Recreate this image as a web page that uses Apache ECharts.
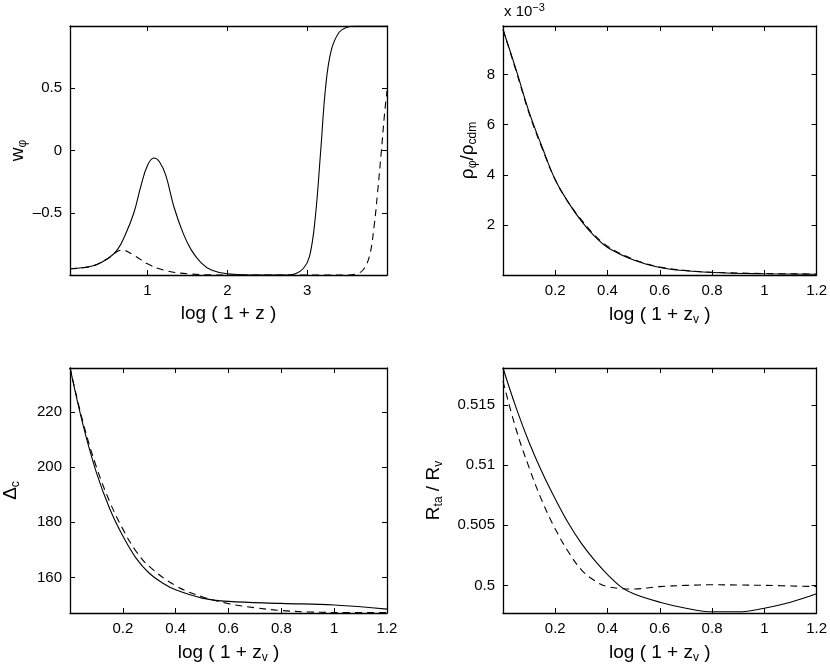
<!DOCTYPE html>
<html>
<head>
<meta charset="utf-8">
<script src="https://cdn.jsdelivr.net/npm/echarts@6/dist/echarts.min.js"></script>
<style>
  html, body { margin: 0; padding: 0; background: #fff; }
  #chart { width: 830px; height: 665px; }
</style>
</head>
<body>
<div id="chart"></div>
<script>
// panel 1: w_phi vs log(1+z)
const wSolid = [[0.03,-0.95],[0.2,-0.94],[0.35,-0.92],[0.5,-0.87],[0.62,-0.8],[0.72,-0.68],[0.83,-0.5],[0.92,-0.28],[1.0,-0.12],[1.08,-0.06],[1.15,-0.09],[1.23,-0.2],[1.33,-0.45],[1.45,-0.67],[1.55,-0.8],[1.67,-0.9],[1.8,-0.96],[2.0,-0.99],[2.4,-1.0],[2.75,-1.0],[2.85,-0.99],[2.95,-0.95],[3.03,-0.85],[3.1,-0.55],[3.17,0],[3.23,0.5],[3.3,0.8],[3.4,0.95],[3.5,0.99],[3.6,1.0],[4.0,1.0]];
const wDashed = [[0.03,-0.95],[0.3,-0.93],[0.5,-0.87],[0.68,-0.8],[0.85,-0.85],[1.0,-0.91],[1.2,-0.96],[1.5,-0.99],[2.0,-1.0],[3.5,-1.0],[3.62,-0.99],[3.7,-0.96],[3.78,-0.85],[3.84,-0.6],[3.88,-0.35],[3.93,0],[3.97,0.3],[4.0,0.48]];
// panel 2: rho_phi/rho_cdm (x 1e-3)
const rhoSolid = [[0,9.8],[0.05,8.2],[0.1,6.5],[0.15,5.1],[0.2,3.8],[0.25,2.9],[0.3,2.15],[0.35,1.55],[0.4,1.1],[0.5,0.6],[0.6,0.3],[0.7,0.17],[0.8,0.1],[1.0,0.05],[1.2,0.03]];
const rhoDashed = [[0,9.8],[0.05,8.15],[0.1,6.45],[0.15,5.05],[0.2,3.8],[0.25,2.9],[0.3,2.2],[0.35,1.6],[0.4,1.15],[0.5,0.62],[0.6,0.32],[0.7,0.18],[0.8,0.11],[1.0,0.06],[1.2,0.04]];
// panel 3: Delta_c
const dcSolid = [[0,236],[0.05,215],[0.1,198],[0.15,185],[0.2,175],[0.25,167],[0.3,161.5],[0.35,158],[0.4,155.5],[0.5,152.5],[0.6,151.3],[0.8,150.6],[1.0,150],[1.2,148.5]];
const dcDashed = [[0,236],[0.05,216],[0.1,200],[0.15,187.5],[0.2,177.5],[0.25,169.5],[0.3,164],[0.4,157],[0.5,153],[0.6,150.5],[0.7,149],[0.8,148],[0.9,147.5],[1.0,147.3],[1.2,147.3]];
// panel 4: R_ta / R_v
const rSolid = [[0,0.5181],[0.05,0.5148],[0.1,0.5119],[0.15,0.5094],[0.2,0.5072],[0.25,0.5052],[0.3,0.5035],[0.35,0.5021],[0.4,0.5009],[0.45,0.4999],[0.5,0.4993],[0.6,0.4986],[0.7,0.4981],[0.8,0.4978],[0.9,0.4978],[1.0,0.4981],[1.1,0.4986],[1.2,0.4993]];
const rDashed = [[0,0.5170],[0.05,0.5130],[0.1,0.5098],[0.15,0.5070],[0.2,0.5047],[0.25,0.5028],[0.3,0.5013],[0.35,0.5004],[0.4,0.4999],[0.5,0.4997],[0.6,0.4999],[0.7,0.5000],[0.8,0.50005],[0.9,0.50003],[1.0,0.5000],[1.2,0.4999]];

const zTicks = [0.2,0.4,0.6,0.8,1,1.2];

const font = 'Liberation Sans';
const grids = [
  { left: 70, top: 26, width: 317, height: 249 },
  { left: 503, top: 26, width: 316, height: 249 },
  { left: 70, top: 368, width: 317, height: 248 },
  { left: 503, top: 368, width: 316, height: 248 }
];
const rich = {
  b: { fontSize: 19, fontFamily: font, color: '#000' },
  s: { fontSize: 12, fontFamily: font, color: '#000', padding: [10, 0, 0, 0] }
};

const xAxes = [], yAxes = [], series = [];
function fmt(v) { return String(Math.round(v * 10000) / 10000).replace('-', '\u2013'); }
function panel(i, xmin, xmax, xticks, xname, ymin, ymax, yticks, yname, yGap, solid, dashed) {
  const base = { gridIndex: i, type: 'value', splitLine: { show: false },
    axisLine: { show: true, onZero: false, lineStyle: { color: '#000', width: 1.3 } } };
  xAxes.push(Object.assign({}, base, { min: xmin, max: xmax, position: 'bottom',
    name: xname, nameLocation: 'middle', nameGap: 29,
    nameTextStyle: { rich: rich },
    axisTick: { inside: true, length: 5, customValues: xticks, lineStyle: { color: '#000' } },
    axisLabel: { customValues: xticks, formatter: fmt, fontSize: 15, fontFamily: font, color: '#000', margin: 8 } }));
  xAxes.push(Object.assign({}, base, { min: xmin, max: xmax, position: 'top',
    axisTick: { inside: true, length: 5, customValues: xticks, lineStyle: { color: '#000' } },
    axisLabel: { show: false } }));
  yAxes.push(Object.assign({}, base, { min: ymin, max: ymax, position: 'left',
    name: yname, nameLocation: 'middle', nameGap: yGap, nameRotate: 90,
    nameTextStyle: { rich: rich },
    axisTick: { inside: true, length: 5, customValues: yticks, lineStyle: { color: '#000' } },
    axisLabel: { customValues: yticks, formatter: fmt, fontSize: 15, fontFamily: font, color: '#000', margin: 8 } }));
  yAxes.push(Object.assign({}, base, { min: ymin, max: ymax, position: 'right',
    axisTick: { inside: true, length: 5, customValues: yticks, lineStyle: { color: '#000' } },
    axisLabel: { show: false } }));
  const xi = xAxes.length - 2, yi = yAxes.length - 2;
  series.push({ type: 'line', xAxisIndex: xi, yAxisIndex: yi, data: solid, smooth: 0.4,
    showSymbol: false, lineStyle: { color: '#000', width: 1.1 } });
  series.push({ type: 'line', xAxisIndex: xi, yAxisIndex: yi, data: dashed, smooth: 0.4,
    showSymbol: false, lineStyle: { color: '#000', width: 1.1, type: [7, 5] } });
}

panel(0, 0.03, 4.0, [1,2,3], '{b|log ( 1 + z )}', -1, 1, [-0.5,0,0.5], '{b|w}{s|\u03c6}', 40, wSolid, wDashed);
panel(1, 0, 1.2, zTicks, '{b|log ( 1 + z}{s|v}{b| )}', 0, 9.94, [2,4,6,8], '{b|\u03c1}{s|\u03c6}{b|/\u03c1}{s|cdm}', 24, rhoSolid, rhoDashed);
panel(2, 0, 1.2, zTicks, '{b|log ( 1 + z}{s|v}{b| )}', 147.1, 235.9, [160,180,200,220], '{b|\u0394}{s|c}', 48, dcSolid, dcDashed);
panel(3, 0, 1.2, zTicks, '{b|log ( 1 + z}{s|v}{b| )}', 0.4977, 0.5181, [0.5,0.505,0.51,0.515], '{b|R}{s|ta}{b| / R}{s|v}', 58, rSolid, rDashed);

const chart = echarts.init(document.getElementById('chart'));
chart.setOption({
  animation: false,
  grid: grids,
  xAxis: xAxes,
  yAxis: yAxes,
  series: series,
  graphic: [{
    type: 'text', left: 504, top: 2,
    style: { rich: { a: { fontSize: 15, fontFamily: font, fill: '#000' }, e: { fontSize: 11, fontFamily: font, fill: '#000', padding: [0, 0, 9, 0] } },
      text: '{a|x 10}{e|\u22123}' }
  }]
});
</script>
</body>
</html>
